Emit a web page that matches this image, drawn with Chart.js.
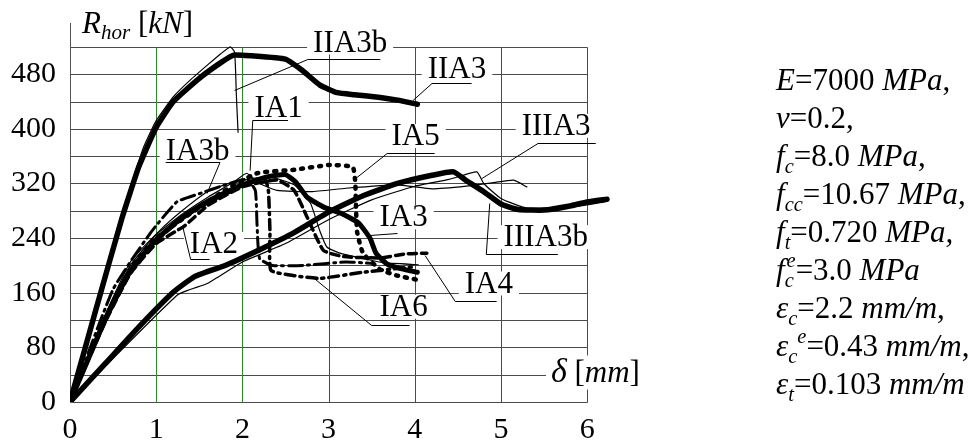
<!DOCTYPE html>
<html lang="en">
<head>
<meta charset="UTF-8">
<title>Rhor - delta</title>
<script src="https://cdn.jsdelivr.net/npm/chart.js@4/dist/chart.umd.min.js"></script>
<style>
    html, body { margin: 0; padding: 0; background: #fff; }
    #wrap { position: relative; width: 979px; height: 442px; overflow: hidden; }
    #plot { position: absolute; left: 0; top: 0; }
    #params {
        position: absolute; left: 776px; top: 61px;
        font-family: 'Liberation Serif', 'Times New Roman', serif;
        font-size: 31px; line-height: 38px; color: #000; white-space: nowrap;
    }
    #params div { height: 38px; }
    .sb { font-size: 0.66em; position: relative; top: 0.32em; line-height: 0; }
    .sp { font-size: 0.66em; position: relative; top: -0.62em; line-height: 0; }
</style>
</head>
<body>
<div id="wrap">
    <canvas id="plot" width="979" height="442"></canvas>
    <div id="params">
        <div><i>E</i>=7000 <i>MPa</i>,</div>
        <div><i>ν</i>=0.2,</div>
        <div><i>f<span class="sb">c</span></i>=8.0 <i>MPa</i>,</div>
        <div><i>f<span class="sb">cc</span></i>=10.67 <i>MPa</i>,</div>
        <div><i>f<span class="sb">t</span></i>=0.720 <i>MPa,</i></div>
        <div><i>f<span class="sb">c</span><span class="sp" style="margin-left:-0.35em">e</span></i>=3.0 <i>MPa</i></div>
        <div><i>ε<span class="sb">c</span></i>=2.2 <i>mm/m</i>,</div>
        <div><i>ε<span class="sb">c</span><span class="sp">e</span></i>=0.43 <i>mm/m</i>,</div>
        <div><i>ε<span class="sb">t</span></i>=0.103 <i>mm/m</i></div>
    </div>
</div>

<script>
// axis ticks / grid
var xTicks = [0, 1, 2, 3, 4, 5, 6];
var yTicks = [0, 80, 160, 240, 320, 400, 480];
var yGrid = [0, 40, 80, 120, 160, 200, 240, 280, 320, 360, 400, 440, 480, 520];
var greenLines = [1, 2];

// curves, [delta mm, Rhor kN]
var IIA3 = [[0,0],[0.3,135],[0.6,268],[0.8,345],[1.0,402],[1.2,440],[1.5,474],[1.75,497],[1.9,508],[2.1,507],
    [2.5,502],[2.7,485],[2.9,464],[3.1,453],[3.3,450],[3.6,446],[3.8,442],[4.03,436]];
var IIA3b = [[0,0],[0.6,274],[0.85,372],[1.0,412],[1.2,447],[1.4,472],[1.6,494],[1.75,510],[1.86,520],
    [1.91,512],[1.93,450],[1.95,395]];
var IIIA3 = [[0,0],[0.4,55],[0.8,110],[1.2,161],[1.45,184],[1.8,200],[2.2,223],[2.6,248],[3.0,278],[3.4,302],
    [3.8,320],[4.2,332],[4.45,337],[4.6,324],[4.8,308],[5.0,290],[5.2,282],[5.5,281],[5.8,287],[6.0,293],[6.23,297]];
var IIIA3b = [[0,0],[1.25,157],[1.6,174],[2.0,205],[2.5,232],[3.0,267],[3.5,296],[4.0,316],[4.4,326],[4.72,337],
    [4.8,320],[5.0,298],[5.3,284],[5.8,285],[6.2,293]];
var IA1 = [[0,0],[0.4,125],[0.7,200],[1.0,245],[1.3,275],[1.6,300],[1.9,322],[2.05,335],[2.2,320],[2.4,310],
    [2.8,308],[3.2,313],[3.8,318],[4.2,312],[4.6,316],[4.9,321],[5.15,325],[5.3,315]];
var IA2 = [[0,0],[0.5,165],[0.93,247],[1.24,293],[1.5,305],[1.8,318],[2.05,326],[2.15,310],[2.17,260],[2.2,210],
    [2.35,200],[2.7,200],[3.2,205],[3.5,203]];
var IA3 = [[0,0],[0.4,118],[0.7,192],[1.0,238],[1.3,270],[1.6,294],[2.0,318],[2.3,330],[2.5,333],[2.62,322],
    [2.75,300],[2.95,285],[3.15,276],[3.35,262],[3.48,240],[3.55,218],[3.68,202],[3.85,195],[4.03,190]];
var IA3b = [[0,0],[0.4,125],[0.7,205],[1.04,251],[1.3,280],[1.62,310],[1.9,322],[2.3,330],[2.6,318],[2.79,291],
    [2.9,250],[2.98,227],[3.13,218],[3.4,210],[3.63,204],[4.04,201]];
var IA4 = [[0,0],[0.4,115],[0.7,188],[1.0,232],[1.33,258],[1.6,288],[2.0,315],[2.4,325],[2.6,310],[2.75,271],
    [2.94,222],[3.17,213],[3.6,211],[3.9,217],[4.14,218]];
var IA5 = [[0,0],[0.4,120],[0.7,195],[1.0,240],[1.5,285],[1.8,310],[2.17,335],[2.6,340],[3.0,347],[3.28,344],
    [3.31,320],[3.33,250],[3.4,218],[3.6,194],[3.8,185],[4.03,179]];
var IA6 = [[0,0],[0.4,118],[0.7,190],[1.0,236],[1.3,268],[1.6,292],[2.0,316],[2.25,328],[2.3,312],[2.32,250],
    [2.33,193],[2.6,185],[2.9,181],[3.4,190],[3.83,196],[4.0,198]];

var series = [
    { name: 'IIA3',   pts: IIA3,   w: 5.5 },
    { name: 'IIA3b',  pts: IIA3b,  w: 1.2 },
    { name: 'IIIA3',  pts: IIIA3,  w: 5.5 },
    { name: 'IIIA3b', pts: IIIA3b, w: 1.2 },
    { name: 'IA1',    pts: IA1,    w: 1.2 },
    { name: 'IA2',    pts: IA2,    w: 3, dash: [14, 5, 2, 5] },
    { name: 'IA3',    pts: IA3,    w: 5 },
    { name: 'IA3b',   pts: IA3b,   w: 1.2 },
    { name: 'IA4',    pts: IA4,    w: 3.5, dash: [8, 5] },
    { name: 'IA5',    pts: IA5,    w: 4.5, dash: [2, 7] },
    { name: 'IA6',    pts: IA6,    w: 3.5, dash: [10, 5, 2, 5] }
];

// curve labels with leader lines (data units)
var notes = [
    { text: 'IIA3b',  at: [3.25, 525], lead: [[3.6, 502], [2.76, 502], [1.91, 457]] },
    { text: 'IIA3',   at: [4.49, 486], lead: [[4.66, 467], [4.2, 467], [3.98, 442]] },
    { text: 'IA1',    at: [2.42, 430], lead: [[2.53, 413], [2.12, 413], [2.09, 340]] },
    { text: 'IA3b',   at: [1.48, 366], lead: [[1.11, 351], [1.74, 351], [1.59, 306]] },
    { text: 'IA5',    at: [4.01, 388], lead: [[4.23, 364], [3.68, 364], [3.33, 329]] },
    { text: 'IIIA3',  at: [5.64, 403], lead: [[6.1, 380], [5.43, 380], [4.78, 328]] },
    { text: 'IA2',    at: [1.67, 230], lead: [[1.62, 209], [1.4, 209], [1.31, 256]] },
    { text: 'IA3',    at: [3.87, 269], lead: [[3.8, 247], [3.48, 245]] },
    { text: 'IIIA3b', at: [5.52, 240], lead: [[5.66, 217], [4.83, 217], [4.87, 291]] },
    { text: 'IA4',    at: [4.86, 172], lead: [[4.95, 148], [4.47, 148], [4.12, 215]] },
    { text: 'IA6',    at: [3.87, 138], lead: [[3.94, 113], [3.5, 113], [2.82, 183]] }
];

var FONT = '"Liberation Serif", "Times New Roman", serif';

function toXY(pairs) {
    return pairs.map(function (p) { return { x: p[0], y: p[1] }; });
}

// draws text made of pieces: [text, italic, sizeFactor, dy]
function richText(ctx, segs, x, y, size) {
    var cx = x;
    segs.forEach(function (s) {
        ctx.font = (s[1] ? 'italic ' : '') + Math.round(size * (s[2] || 1)) + 'px ' + FONT;
        ctx.fillText(s[0], cx, y + (s[3] || 0));
        cx += ctx.measureText(s[0]).width;
    });
    return cx - x;
}

var paper = {
    id: 'paper',
    beforeDatasetsDraw: function (chart) {
        var ctx = chart.ctx, xs = chart.scales.x, ys = chart.scales.y;
        var X = function (v) { return Math.round(xs.getPixelForValue(v)) + 0.5; };
        var Y = function (v) { return Math.round(ys.getPixelForValue(v)) + 0.5; };
        ctx.save();
        ctx.lineWidth = 1;
        ctx.strokeStyle = '#4a4a4a';
        yGrid.forEach(function (v) {
            ctx.beginPath();
            ctx.moveTo(X(0), Y(v));
            ctx.lineTo(X(6), Y(v));
            ctx.stroke();
        });
        xTicks.forEach(function (v) {
            if (v === 0) return;
            ctx.strokeStyle = greenLines.indexOf(v) >= 0 ? '#2a8a2a' : '#4a4a4a';
            ctx.beginPath();
            ctx.moveTo(X(v), Y(0));
            ctx.lineTo(X(v), Y(520));
            ctx.stroke();
        });
        // left axis
        ctx.strokeStyle = '#555';
        ctx.beginPath();
        ctx.moveTo(X(0), Y(0));
        ctx.lineTo(X(0), ys.top);
        ctx.stroke();

        // white boxes behind labels
        ctx.font = '31px ' + FONT;
        ctx.fillStyle = '#fff';
        notes.forEach(function (n) {
            var w = ctx.measureText(n.text).width;
            var cx = xs.getPixelForValue(n.at[0]), cy = ys.getPixelForValue(n.at[1]);
            ctx.fillRect(cx - w / 2 - 6, cy - 13, w + 12, 24);
        });
        // box behind delta title
        ctx.fillRect(xs.getPixelForValue(5.58) - 5, ys.getPixelForValue(30) - 26, 96, 34);

        // leader lines
        ctx.strokeStyle = '#000';
        ctx.lineWidth = 1;
        notes.forEach(function (n) {
            ctx.beginPath();
            n.lead.forEach(function (p, i) {
                var px = xs.getPixelForValue(p[0]), py = Math.round(ys.getPixelForValue(p[1])) + 0.5;
                if (i === 0) ctx.moveTo(px, py); else ctx.lineTo(px, py);
            });
            ctx.stroke();
        });
        ctx.restore();
    },
    afterDatasetsDraw: function (chart) {
        var ctx = chart.ctx, xs = chart.scales.x, ys = chart.scales.y;
        ctx.save();
        ctx.fillStyle = '#000';

        // tick labels
        ctx.font = '30px ' + FONT;
        ctx.textAlign = 'right';
        ctx.textBaseline = 'middle';
        yTicks.forEach(function (v) {
            ctx.fillText(String(v), xs.getPixelForValue(0) - 14, ys.getPixelForValue(v));
        });
        ctx.textAlign = 'center';
        ctx.textBaseline = 'alphabetic';
        xTicks.forEach(function (v) {
            ctx.fillText(String(v), xs.getPixelForValue(v), ys.getPixelForValue(0) + 36);
        });

        // curve labels
        ctx.font = '31px ' + FONT;
        ctx.textBaseline = 'middle';
        notes.forEach(function (n) {
            ctx.fillText(n.text, xs.getPixelForValue(n.at[0]), ys.getPixelForValue(n.at[1]));
        });

        // axis titles
        ctx.textAlign = 'left';
        ctx.textBaseline = 'alphabetic';
        richText(ctx, [['R', 1], ['hor', 1, 0.68, 6], [' [', 0], ['kN', 1], [']', 0]],
            xs.getPixelForValue(0.14), ys.getPixelForValue(540), 31);
        richText(ctx, [['δ', 1, 1.1], [' [', 0], ['mm', 1], [']', 0]],
            xs.getPixelForValue(5.58), ys.getPixelForValue(30), 31);
        ctx.restore();
    }
};

var ctxPlot = document.getElementById('plot').getContext('2d');
var plotChart = new Chart(ctxPlot, {
    type: 'scatter',
    data: {
        datasets: series.map(function (s) {
            return {
                label: s.name,
                data: toXY(s.pts),
                showLine: true,
                fill: false,
                borderColor: '#000',
                backgroundColor: '#000',
                borderWidth: s.w,
                borderDash: s.dash || [],
                borderCapStyle: 'round',
                borderJoinStyle: 'round',
                pointRadius: 0,
                tension: 0.15
            };
        })
    },
    options: {
        responsive: false,
        animation: false,
        devicePixelRatio: 1,
        layout: { padding: { left: 70, top: 23, right: 366, bottom: 40 } },
        plugins: { legend: { display: false }, tooltip: { enabled: false } },
        scales: {
            x: { type: 'linear', min: 0, max: 6.3, display: false },
            y: { type: 'linear', min: 0, max: 555, display: false }
        }
    },
    plugins: [paper]
});
</script>
</body>
</html>
